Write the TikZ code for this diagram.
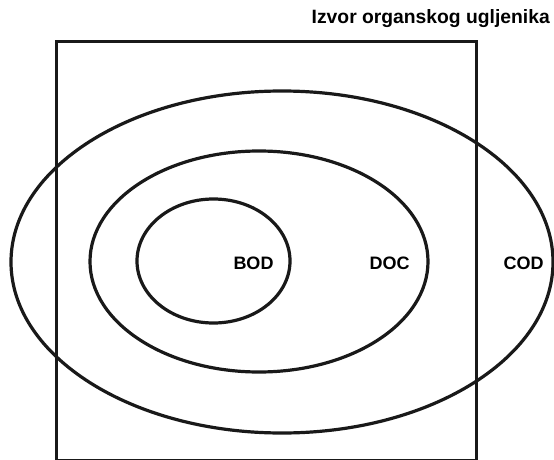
\documentclass[tikz,border=0pt]{standalone}
\usepackage{fontspec}
\setmainfont{Liberation Sans}
\begin{document}
\begin{tikzpicture}[x=1pt,y=-1pt,
  ring/.style={line width=3.2pt, draw=black!90},
  frame/.style={line width=3pt, draw=black!90},
  lbl/.style={font=\bfseries\fontsize{18}{20}\selectfont, inner sep=0pt, anchor=base}]
\useasboundingbox (0,0) rectangle (554,460);
\draw[frame] (56,42) rectangle (476,460);
\draw[ring] (282,262) ellipse (271 and 171);
\draw[ring] (259,261.5) ellipse (169 and 110.5);
\draw[ring] (213.5,261) ellipse (76.5 and 62);
\node[lbl] (bod) at (253.5,269) {BOD};
\node[lbl] (doc) at (389.5,269) {DOC};
\node[lbl] (cod) at (523.5,269) {COD};
\node[font=\bfseries\fontsize{19.3}{21}\selectfont, inner sep=0pt, anchor=base east] (title) at (550,24) {Izvor organskog ugljenika};
\end{tikzpicture}
\end{document}
